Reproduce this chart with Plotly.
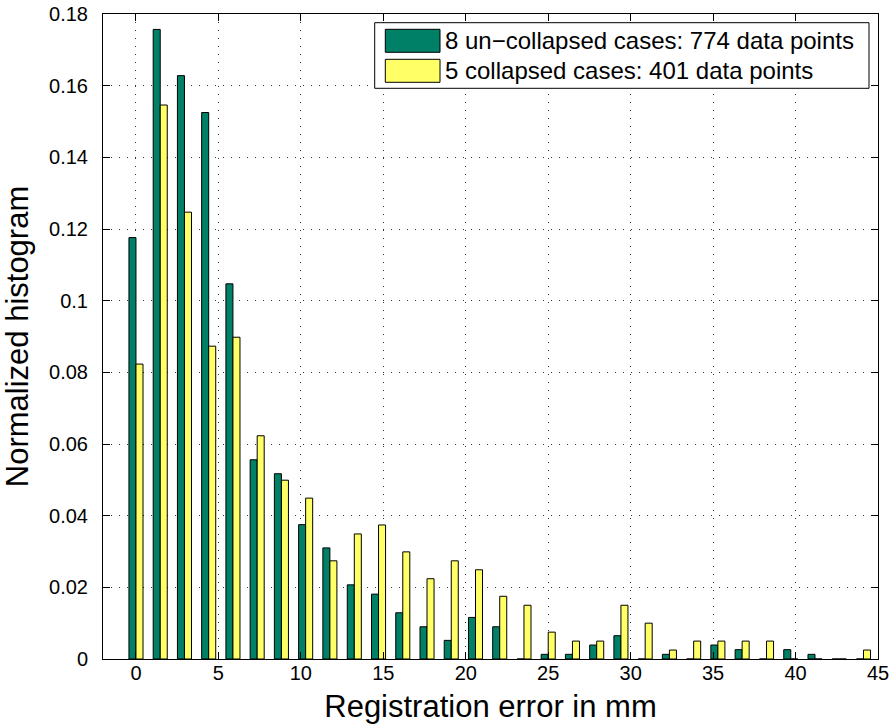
import plotly.graph_objects as go

# Bin centers (mm)
bin_centers = [0.0, 1.47, 2.94, 4.41, 5.88, 7.35, 8.82, 10.29, 11.76, 13.24, 14.71,
               16.18, 17.65, 19.12, 20.59, 22.06, 23.53, 25.0, 26.47, 27.94, 29.41,
               30.88, 32.35, 33.82, 35.29, 36.76, 38.24, 39.71, 41.18, 42.65, 44.12]

# Normalized histogram values
uncollapsed = [0.1176, 0.1757, 0.1628, 0.1525, 0.1047, 0.0556, 0.0517, 0.0375, 0.0310, 0.0207,
               0.0181, 0.0129, 0.0090, 0.0052, 0.0116, 0.0090, 0.0, 0.0013, 0.0013, 0.0039,
               0.0065, 0.0, 0.0013, 0.0, 0.0039, 0.0026, 0.0, 0.0026, 0.0013, 0.0, 0.0]
collapsed = [0.0823, 0.1546, 0.1247, 0.0873, 0.0898, 0.0623, 0.0499, 0.0449, 0.0274, 0.0349,
             0.0374, 0.0299, 0.0224, 0.0274, 0.0249, 0.0175, 0.0150, 0.0075, 0.0050, 0.0050,
             0.0150, 0.0100, 0.0025, 0.0050, 0.0050, 0.0050, 0.0050, 0.0, 0.0, 0.0, 0.0025]

series_names = ["8 un\u2212collapsed cases: 774 data points",
                "5 collapsed cases: 401 data points"]
series_colors = ["rgb(0,128,102)", "rgb(255,255,102)"]

x_ticks = [0, 5, 10, 15, 20, 25, 30, 35, 40, 45]
y_ticks = [0, 0.02, 0.04, 0.06, 0.08, 0.1, 0.12, 0.14, 0.16, 0.18]
y_ticktext = ["0", "0.02", "0.04", "0.06", "0.08", "0.1", "0.12", "0.14", "0.16", "0.18"]

FONT = "Liberation Sans, Arial, Helvetica, sans-serif"

fig = go.Figure()
for name, vals, col in zip(series_names, [uncollapsed, collapsed], series_colors):
    fig.add_trace(go.Bar(x=bin_centers, y=vals, name=name,
                         marker=dict(color=col, line=dict(color="black", width=1)),
                         showlegend=False))

# page offset of the figure (body margin removed below)
OFF = 0
W, H = 895, 727
# desired plot area in page pixels
PL, PR, PT, PB = 103, 878, 14, 659
L, T = PL - OFF, PT - OFF
R, B = W - (PR - OFF), H - (PB - OFF)
pw, ph = PR - PL, PB - PT

def px(xp):
    return (xp - PL) / pw

def py(yp):
    return (PB - yp) / ph

shapes = [
    dict(type="rect", xref="paper", yref="paper", x0=px(374.7), x1=px(869), y0=py(88.3), y1=py(22.7),
         line=dict(color="black", width=1), fillcolor="white", layer="above"),
]
annotations = []
for i, (name, col) in enumerate(zip(series_names, series_colors)):
    top = 29.3 + i * 30
    shapes.append(dict(type="rect", xref="paper", yref="paper", x0=px(385.3), x1=px(440),
                       y0=py(top + 23), y1=py(top), line=dict(color="black", width=1),
                       fillcolor=col, layer="above"))
    annotations.append(dict(xref="paper", yref="paper", x=px(443), y=py(top + 11.5),
                            xanchor="left", yanchor="middle", showarrow=False, text=name,
                            font=dict(family=FONT, size=24, color="black")))

axis_common = dict(showline=True, linecolor="black", linewidth=1, mirror="ticks",
                   ticks="inside", ticklen=7, tickcolor="black", tickwidth=1,
                   showgrid=True, gridcolor="rgba(0,0,0,0.8)", gridwidth=1, griddash="1px,7px",
                   zeroline=False, ticklabeloverflow="allow",
                   tickfont=dict(family=FONT, size=20, color="black"))

fig.update_layout(
    width=W, height=H,
    margin=dict(l=L, r=R, t=T, b=B, autoexpand=False),
    paper_bgcolor="white", plot_bgcolor="white",
    barmode="group", bargap=0.42, bargroupgap=0.0,
    font=dict(family=FONT, color="black"),
    shapes=shapes, annotations=annotations,
    xaxis=dict(range=[-2, 45], tickmode="array", tickvals=x_ticks,
               ticktext=[str(v) for v in x_ticks], ticklabelstandoff=-4,
               title=dict(text="Registration error in mm", standoff=12,
                          font=dict(family=FONT, size=31, color="black")),
               **axis_common),
    yaxis=dict(range=[0, 0.18], tickmode="array", tickvals=y_ticks, ticktext=y_ticktext,
               ticklabelstandoff=10,
               title=dict(text="Normalized histogram", standoff=17,
                          font=dict(family=FONT, size=31, color="black")),
               **axis_common),
)

fig.write_html("out.html", config={"displayModeBar": False},
               post_script="document.body.style.margin='0px';")
